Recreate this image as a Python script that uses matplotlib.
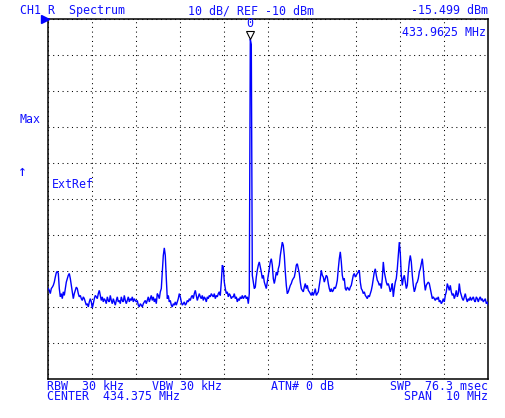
import numpy as np
import matplotlib
matplotlib.use("Agg")
import matplotlib.pyplot as plt
import matplotlib.transforms as mtransforms

# ---- data ----
center_mhz = 434.375
span_mhz = 10.0
ref_dbm = -10.0
db_per_div = 10.0
marker_freq = 433.9625
marker_level = -15.499

trace_dbm = [
    -84.8, -85.3, -86.2, -84.8, -84.4, -83.9, -83.0, -81.6, -80.4, -80.0,
    -80.6, -84.8, -87.1, -86.2, -87.6, -85.7, -86.7, -84.8, -83.0, -82.0,
    -81.1, -80.6, -82.0, -83.9, -85.7, -87.6, -86.2, -85.3, -84.4, -84.8,
    -86.2, -87.1, -86.7, -87.6, -88.1, -87.1, -87.6, -88.5, -89.4, -89.0,
    -89.9, -88.5, -87.6, -88.5, -90.2, -89.0, -87.6, -86.7, -87.1, -87.6,
    -86.2, -85.3, -86.7, -88.1, -87.1, -88.5, -87.6, -88.1, -89.0, -87.1,
    -88.1, -88.5, -86.7, -88.1, -89.0, -87.6, -88.5, -89.4, -88.1, -87.1,
    -88.5, -88.1, -89.0, -87.1, -88.1, -88.5, -86.7, -88.1, -89.0, -88.1,
    -87.1, -88.5, -87.6, -88.1, -87.1, -88.5, -87.6, -88.1, -88.5, -88.1,
    -89.4, -89.9, -89.0, -89.4, -89.9, -89.0, -88.5, -88.1, -89.0, -88.1,
    -87.1, -88.5, -87.6, -86.7, -88.1, -87.1, -88.5, -87.6, -89.0, -86.2,
    -86.7, -87.6, -85.7, -84.8, -80.2, -75.6, -73.5, -75.6, -82.0, -87.6,
    -86.7, -88.5, -88.1, -89.4, -89.9, -89.0, -89.4, -88.5, -89.4, -88.5,
    -87.6, -86.2, -87.1, -88.5, -89.4, -89.0, -88.5, -89.4, -89.0, -88.1,
    -88.5, -87.6, -88.1, -87.1, -86.7, -87.6, -86.2, -85.3, -86.7, -88.1,
    -87.1, -86.2, -87.1, -87.6, -86.7, -88.1, -87.1, -87.6, -88.5, -87.1,
    -87.6, -86.7, -87.1, -86.2, -86.7, -87.1, -86.2, -87.6, -86.7, -87.1,
    -86.2, -85.7, -86.7, -83.0, -78.3, -78.8, -83.0, -84.8, -86.2, -85.7,
    -87.1, -86.2, -86.7, -87.6, -87.1, -87.1, -86.2, -87.6, -87.1, -88.5,
    -87.6, -88.1, -87.1, -87.6, -86.7, -87.6, -87.1, -86.7, -87.6, -87.1,
    -89.0, -86.2, -15.5, -17.0, -81.1, -83.0, -84.8, -84.4, -81.6, -79.7,
    -78.3, -77.4, -78.8, -80.2, -82.0, -81.1, -83.0, -83.9, -84.8, -83.0,
    -81.1, -79.3, -77.4, -76.5, -78.3, -82.0, -83.4, -82.0, -80.2, -81.1,
    -79.3, -78.3, -75.6, -73.7, -71.9, -72.8, -75.6, -80.2, -83.9, -86.2,
    -85.7, -84.8, -83.9, -83.4, -82.5, -82.0, -81.6, -80.2, -78.3, -77.9,
    -79.3, -80.6, -83.0, -84.8, -85.3, -85.7, -84.4, -83.4, -84.8, -83.9,
    -85.3, -85.7, -86.2, -86.7, -85.7, -86.7, -85.9, -84.8, -86.7, -86.2,
    -85.7, -83.9, -82.0, -79.7, -81.1, -81.6, -83.0, -82.0, -81.1, -81.6,
    -83.4, -84.8, -85.7, -84.8, -85.7, -85.3, -84.4, -84.8, -83.9, -82.5,
    -79.3, -76.5, -74.6, -77.4, -81.1, -82.5, -82.0, -84.8, -85.3, -84.4,
    -84.8, -85.3, -84.4, -83.9, -82.5, -81.1, -80.6, -81.6, -81.1, -80.6,
    -80.2, -79.7, -83.0, -84.8, -85.3, -86.2, -85.7, -86.7, -87.1, -87.6,
    -86.7, -87.1, -86.2, -85.3, -83.9, -82.0, -80.2, -79.3, -81.1, -82.5,
    -83.0, -83.9, -83.4, -84.8, -82.0, -77.4, -80.2, -81.6, -83.0, -83.9,
    -83.4, -84.4, -85.7, -84.8, -83.4, -87.1, -84.8, -83.0, -82.0, -79.3,
    -75.6, -71.9, -75.1, -81.1, -83.9, -82.0, -81.1, -83.0, -84.8, -83.9,
    -80.2, -77.4, -75.6, -77.4, -81.1, -83.9, -85.7, -84.8, -83.4, -83.0,
    -82.0, -80.2, -79.3, -77.9, -76.5, -79.3, -83.0, -85.3, -83.9, -83.4,
    -83.0, -83.4, -84.8, -86.2, -87.6, -87.1, -87.6, -88.1, -87.4, -87.8,
    -87.1, -88.5, -88.1, -89.0, -88.5, -87.6, -88.5, -86.7, -85.7, -83.4,
    -84.4, -85.3, -83.9, -85.7, -86.7, -86.2, -87.6, -86.7, -85.3, -87.1,
    -86.2, -83.4, -85.7, -86.7, -87.6, -88.1, -87.1, -86.2, -87.6, -88.5,
    -87.6, -88.1, -87.1, -88.1, -87.6, -87.1, -88.1, -88.5, -87.1, -87.6,
    -88.5, -87.6, -87.1, -88.1, -87.6, -88.5, -88.1, -87.6, -89.0, -88.5,
    -89.4,
]

top_left = "CH1 R  Spectrum"
top_mid = "10 dB/ REF -10 dBm"
top_right = "-15.499 dBm"
marker_readout = "433.9625 MHz"
bottom_row1 = ["RBW  30 kHz", "VBW 30 kHz", "ATN# 0 dB", "SWP  76.3 msec"]
bottom_row2 = ["CENTER  434.375 MHz", "SPAN  10 MHz"]

# ---- figure ----
W, H = 505, 418
DPI = 100
fig = plt.figure(figsize=(W / DPI, H / DPI), dpi=DPI, facecolor="white")

L, R, T, B = 48.3, 488.3, 19.3, 379.3
ax = fig.add_axes([L / W, 1 - B / H, (R - L) / W, (B - T) / H])
ax.set_facecolor("white")

f_start = center_mhz - span_mhz / 2
f_stop = center_mhz + span_mhz / 2
y_bot = ref_dbm - 10 * db_per_div
freqs = np.linspace(f_start, f_stop, len(trace_dbm))

blue = "#0000ff"
txt_blue = "#1010ff"

ax.plot(freqs, trace_dbm, color=blue, lw=1.0, zorder=3, solid_joinstyle="miter")

ax.set_xlim(f_start, f_stop)
ax.set_ylim(y_bot, ref_dbm)
ax.set_xticks(np.linspace(f_start, f_stop, 11))
ax.set_yticks(np.linspace(y_bot, ref_dbm, 11))
ax.tick_params(length=0, labelbottom=False, labelleft=False)
ax.grid(True, color="black", lw=0.75, linestyle=(0, (1, 3.5)))
for s in ax.spines.values():
    s.set_color("black")
    s.set_linewidth(1.1)

# marker triangle + label, offset from marker data point
tri_tr = mtransforms.offset_copy(ax.transData, fig=fig, x=0, y=3.0, units="points")
ax.plot([marker_freq], [marker_level], marker="v", ms=6.2, mfc="white",
        mec="black", mew=0.8, transform=tri_tr, zorder=5, clip_on=False)
ax.annotate("0", xy=(marker_freq, marker_level), xytext=(0, 11.2),
            textcoords="offset points", ha="center", va="center",
            family="DejaVu Sans Mono", fontsize=8.4, color=txt_blue, zorder=6)

# reference level indicator (blue triangle at ref level, left of the grid)
ref_tr = mtransforms.blended_transform_factory(ax.transAxes, ax.transData)
ax.plot([-0.0085], [ref_dbm], marker=">", ms=5.5, color=blue, mec=blue,
        transform=ref_tr, clip_on=False, zorder=5)

mono = dict(family="DejaVu Sans Mono", fontsize=8.4, color=txt_blue)


def put(x, y, s, ha="left", **kw):
    opts = dict(mono)
    opts.update(kw)
    fig.text(x / W, 1 - y / H, s, ha=ha, va="center", **opts)


put(19.5, 10.5, top_left)
put(188, 10.5, top_mid)
put(488, 10.5, top_right, ha="right")
put(486, 33, marker_readout, ha="right")
put(19, 119.5, "Max")
put(18, 172, "\u2191", fontsize=10.5)
put(52, 184, "ExtRef")

# bottom status block: two fixed-width lines laid out in character columns
cols1 = [0, 15, 32, 49]
cols2 = [0, 51]
width = 63


def compose(items, cols):
    line = [" "] * width
    for s, c in zip(items, cols):
        for i, ch in enumerate(s):
            line[c + i] = ch
    return "".join(line)


bottom_text = compose(bottom_row1, cols1) + "\n" + compose(bottom_row2, cols2)
put(47.3, 391.5, bottom_text, linespacing=0.8)

fig.savefig("out.png", dpi=DPI, facecolor="white")
